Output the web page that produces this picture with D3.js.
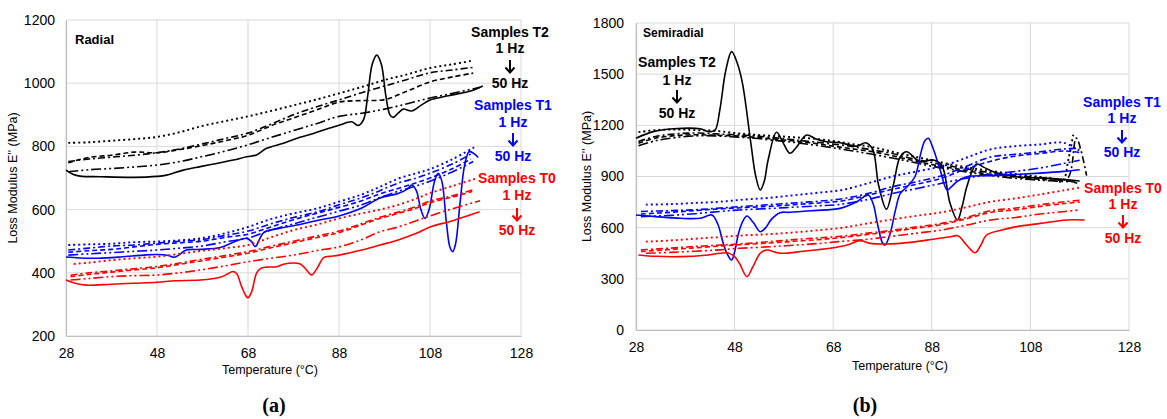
<!DOCTYPE html>
<html>
<head>
<meta charset="utf-8">
<script src="https://cdn.jsdelivr.net/npm/d3@7"></script>
<style>
  html, body { margin: 0; padding: 0; background: #ffffff; }
  svg { display: block; }
  text { font-family: "Liberation Sans", Arial, sans-serif; }
</style>
</head>
<body>
<svg id="chart" width="1167" height="419"></svg>
<script>
// Loss modulus E'' vs temperature, five frequencies per sample group (1 Hz ... 50 Hz).
// Each series: [temperature °C, E'' MPa]

const tempTicks = [28, 48, 68, 88, 108, 128];
const radialTicks = [200, 400, 600, 800, 1000, 1200];
const semiTicks = [0, 300, 600, 900, 1200, 1500, 1800];

// ---------- Radial, samples T2 ----------
const radT2_f1 = [[28.5,811],[33,813],[38,818],[43,823],[48,830],[53,845],[58,865],[63,880],[68,895],[73,912],[78,930],[83,948],[88,968],[93,988],[98,1010],[103,1028],[108,1048],[113,1060],[117.5,1072]];
const radT2_f2 = [[28.5,752],[33,760],[38,766],[43,772],[48,780],[53,792],[58,808],[63,825],[68,842],[73,870],[78,900],[83,925],[88,947],[93,970],[98,991],[103,1012],[108,1033],[113,1042],[117.5,1050]];
const radT2_f3 = [[28.5,748],[33,765],[38,772],[43,782],[48,780],[53,790],[58,803],[63,818],[68,835],[73,865],[78,890],[83,915],[88,940],[93,945],[98,948],[103,975],[108,1004],[113,1020],[117.5,1032]];
const radT2_f4 = [[28.5,720],[33,726],[38,730],[43,735],[48,741],[53,752],[58,768],[63,785],[68,805],[73,828],[78,850],[83,872],[88,895],[93,905],[98,918],[103,935],[108,953],[113,968],[119,987]];
const radT2_f5 = [[28,725],[29.5,712],[31.1,706],[35.5,704],[42.8,702],[48,705],[50.1,709],[53.8,725],[57.5,736],[61.1,746],[64.8,757],[67.7,767],[69.9,773],[72.1,794],[75.8,810],[79.4,829],[82.4,841],[86,858],[88.2,868],[90.8,878],[92.2,866],[93.4,885],[94.3,960],[95.3,1060],[96.3,1089],[97.3,1060],[98.3,960],[99.2,900],[99.9,892],[101,905],[102.1,918],[104,912],[106,930],[108,947],[112,960],[117.5,978],[119.6,991]];

// ---------- Radial, samples T1 ----------
const radT1_f1 = [[28.5,488],[33,490],[38,492],[43,497],[48,499],[53,503],[58,510],[63,525],[68,545],[73,570],[78,588],[83,603],[88,625],[93,648],[97,672],[101,698],[105,715],[108,728],[113,760],[117.7,797]];
const radT1_f2 = [[28.5,472],[33,478],[38,485],[43,488],[48,494],[53,500],[58,505],[63,518],[68,532],[73,555],[78,575],[83,592],[88,615],[93,638],[97,660],[101,684],[105,700],[108,715],[113,745],[117.5,780]];
const radT1_f3 = [[28.5,465],[33,470],[38,474],[43,482],[48,490],[53,495],[58,500],[63,512],[68,522],[73,545],[78,568],[83,588],[88,607],[93,628],[97,650],[101,667],[105,685],[108,700],[113,730],[117,760]];
const radT1_f4 = [[28.5,456],[33,460],[38,464],[43,468],[48,472],[53,478],[58,485],[63,498],[68,510],[73,535],[78,555],[83,575],[88,595],[93,615],[97,638],[101,658],[105,675],[108,690],[113,720],[117.5,752]];
const radT1_f5 = [[28,450],[31,447],[35,446],[40,450],[45,456],[48,458],[50.5,455],[51.8,449],[53,458],[54.4,472],[57.5,474],[61.9,480],[65,498],[67.7,509],[68.7,500],[69.6,483],[70.5,505],[71.5,528],[75,541],[78.7,551],[83,565],[88,580],[93,605],[97,637],[101,651],[103,665],[104,678],[105,660],[106,600],[106.9,572],[107.8,600],[109,690],[109.8,715],[110.6,690],[111.6,560],[112.4,480],[113,467],[113.6,490],[114.6,620],[115.6,740],[116.6,783],[117.6,778],[118.6,765]];

// ---------- Radial, samples T0 ----------
const radT0_f1 = [[29.7,428],[33,432],[38,440],[43,446],[48,451],[53,460],[58,470],[63,478],[68,488],[73,512],[78,535],[83,552],[88,572],[93,588],[97,600],[101,615],[105,635],[108,652],[113,675],[117.9,697]];
const radT0_f2 = [[29,392],[33,400],[38,406],[43,413],[48,420],[53,431],[58,443],[63,455],[68,467],[73,484],[78,500],[83,516],[88,532],[93,556],[97,576],[101,592],[105,610],[108,627],[113,644],[117.3,662]];
const radT0_f3 = [[29,388],[33,395],[38,402],[43,409],[48,416],[53,427],[58,438],[63,450],[68,462],[73,479],[78,495],[83,511],[88,527],[93,552],[97,572],[101,588],[105,605],[108,622],[113,640],[117.3,657]];
const radT0_f4 = [[29,377],[33,382],[38,388],[43,391],[48,393],[53,400],[58,410],[63,422],[68,435],[73,446],[78,456],[83,470],[88,482],[93,505],[97,530],[101,545],[105,565],[108,580],[113,603],[119,628]];
const radT0_f5 = [[28,377],[30,367],[32.5,361],[38,364],[43,367],[48,370],[52,375],[57.5,377],[61.9,386],[63.5,396],[64.6,404],[65.5,398],[66.5,360],[67.5,328],[68,321],[68.8,340],[69.9,400],[70.8,414],[72,418],[74.3,419],[76,428],[78,431],[79.5,428],[80.5,415],[81.5,398],[82,393],[83,410],[84.7,449],[86,452],[88,456],[93,472],[97,488],[101,504],[105,525],[108,545],[113,565],[118.9,593]];

// ---------- Semiradial, samples T2 ----------
const semT2_f1 = [[28.5,1160],[32,1172],[36,1176],[40,1172],[44,1168],[48,1155],[52,1145],[56,1138],[60,1130],[64,1122],[68,1108],[72,1090],[76,1072],[80,1045],[84,1020],[88,995],[92,970],[96,950],[100,932],[104,918],[108,905],[112,888],[114.5,872],[115.7,1000],[116.7,1145]];
const semT2_f2 = [[28.5,1105],[32,1135],[36,1150],[40,1155],[44,1150],[48,1145],[52,1138],[56,1128],[60,1115],[64,1103],[68,1090],[72,1075],[76,1055],[80,1035],[84,1005],[88,982],[92,960],[96,940],[100,922],[104,908],[108,898],[112,890],[115.5,888],[117.3,1125],[119.4,905]];
const semT2_f3 = [[28.5,1095],[32,1125],[36,1140],[40,1145],[44,1142],[48,1138],[52,1130],[56,1120],[60,1108],[64,1095],[68,1078],[72,1062],[76,1045],[80,1022],[84,995],[88,970],[92,950],[96,930],[100,912],[104,900],[108,888],[112,880],[116,872],[117.5,860]];
const semT2_f4 = [[28.5,1080],[32,1110],[36,1128],[40,1138],[44,1138],[48,1132],[52,1124],[56,1112],[60,1100],[64,1085],[68,1068],[72,1050],[76,1030],[80,1008],[84,985],[88,960],[92,942],[96,922],[100,905],[104,892],[108,882],[112,875],[117,868]];
const semT2_f5 = [[28,1124],[31.5,1163],[35.6,1180],[41,1180],[42.7,1163],[44,1170],[45,1290],[46.2,1520],[47.4,1632],[48.6,1560],[49.6,1446],[51.3,1095],[52.3,900],[53.2,821],[54,870],[54.8,997],[56.5,1159],[57.8,1100],[59.2,1036],[60.5,1070],[62.6,1143],[64.5,1120],[66.7,1104],[69.4,1098],[72.8,1078],[74.6,1098],[76,1060],[77.2,850],[78.8,708],[80.2,850],[81.6,1016],[82.9,1045],[85.6,987],[88.3,997],[90,967],[91.7,743],[93.2,645],[94.2,730],[95.1,840],[97.1,973],[98.5,955],[100.5,928],[105.2,899],[112,889],[118,874]];

// ---------- Semiradial, samples T1 ----------
const semT1_f1 = [[30,735],[35,738],[40,745],[45,752],[50,765],[55,775],[60,790],[65,805],[70,822],[75,860],[80,900],[85,930],[90,960],[95,1010],[100,1060],[105,1078],[110,1088],[114.7,1098],[118,1050]];
const semT1_f2 = [[29,695],[35,700],[40,705],[45,715],[50,725],[55,735],[60,745],[65,755],[70,770],[75,800],[80,840],[85,870],[90,905],[95,960],[100,1015],[105,1030],[110,1045],[115,1062],[118,1065]];
const semT1_f3 = [[29,680],[35,690],[40,700],[45,710],[50,718],[55,725],[60,735],[65,745],[70,758],[75,790],[80,825],[85,855],[90,890],[95,945],[100,990],[105,1020],[110,1035],[115,1050],[118,1040]];
const semT1_f4 = [[29,665],[35,672],[40,682],[45,695],[49,704],[55,712],[60,720],[65,728],[69,735],[75,765],[80,800],[85,830],[90,860],[95,890],[100,912],[105,930],[110,950],[115,978],[118,995]];
const semT1_f5 = [[28,674],[32,665],[37,655],[41,655],[43.4,674],[44.6,620],[45.7,508],[46.6,440],[47.4,410],[48.1,470],[48.8,567],[49.7,640],[50.5,668],[51.8,630],[53.2,576],[54.3,600],[55.5,650],[57.2,688],[59.2,690],[64,700],[69.4,713],[72.8,752],[75.1,792],[76.1,740],[77,620],[78,510],[78.5,498],[79.5,560],[80.6,700],[81.6,800],[83,840],[84.6,900],[85.8,1040],[86.6,1110],[87.3,1124],[88.2,1070],[89.7,938],[91.1,821],[92,840],[93.1,870],[95.1,899],[100,905],[105,912],[110,920],[114.7,930],[118,940]];

// ---------- Semiradial, samples T0 ----------
const semT0_f1 = [[30,518],[35,525],[40,535],[45,545],[50,555],[55,562],[60,572],[65,585],[70,600],[75,625],[80,648],[85,670],[90,690],[95,720],[100,752],[105,772],[110,795],[115,820],[118,835]];
const semT0_f2 = [[29,470],[35,480],[40,490],[45,498],[49,505],[55,518],[60,530],[65,540],[69,548],[75,568],[80,585],[85,605],[90,625],[95,660],[100,700],[105,715],[110,735],[115,752],[118,760]];
const semT0_f3 = [[29,460],[35,472],[40,482],[45,492],[49,500],[55,510],[60,520],[65,530],[69,540],[75,560],[80,578],[85,598],[90,618],[95,652],[100,690],[105,705],[110,725],[115,742],[118,750]];
const semT0_f4 = [[30,450],[35,455],[40,462],[45,470],[49,479],[55,488],[60,497],[65,507],[69,518],[75,532],[80,550],[85,568],[90,586],[95,615],[100,645],[105,660],[110,680],[115,695],[118,704]];
const semT0_f5 = [[28.5,440],[32,432],[37,430],[42,438],[45,450],[46.7,452],[48,430],[49,390],[50.5,313],[51.7,370],[53.2,450],[54.5,469],[57.2,450],[62,462],[67.3,479],[71,500],[73.4,524],[75.5,508],[78.1,504],[81.6,508],[88.3,532],[91.5,545],[93.3,552],[95,500],[96.8,453],[98,500],[99.1,557],[102,585],[105.2,606],[110,625],[115.3,645],[119,645]];

// Line styles, 1 Hz -> 50 Hz
const freqDash = ["2,3", "7,3,2,3", "5,3", "10,3,2,3,2,3", null];

const svg = d3.select("#chart");

function drawPanel(p) {
  const x = d3.scaleLinear().domain([28, 128]).range([p.left, p.right]);
  const y = d3.scaleLinear().domain([p.yTicks[0], p.yTicks[p.yTicks.length - 1]]).range([p.bottom, p.top]);
  const g = svg.append("g");

  // grid
  g.append("g").selectAll("line").data(p.yTicks).join("line")
    .attr("x1", p.left).attr("x2", p.right)
    .attr("y1", d => y(d)).attr("y2", d => y(d))
    .attr("stroke", "#d9d9d9").attr("stroke-width", 1);
  g.append("g").selectAll("line").data(tempTicks).join("line")
    .attr("x1", d => x(d)).attr("x2", d => x(d))
    .attr("y1", p.top).attr("y2", p.bottom)
    .attr("stroke", "#d9d9d9").attr("stroke-width", 1);

  // axes
  const fmt = d3.format("d");
  const xAxis = d3.axisBottom(x).tickValues(tempTicks).tickFormat(fmt).tickSize(0).tickPadding(p.xPad);
  const yAxis = d3.axisLeft(y).tickValues(p.yTicks).tickFormat(fmt).tickSize(0).tickPadding(p.yPad);
  const gx = g.append("g").attr("transform", `translate(0,${p.bottom})`).call(xAxis);
  const gy = g.append("g").attr("transform", `translate(${p.left},0)`).call(yAxis);
  [gx, gy].forEach(a => {
    a.select(".domain").attr("stroke", "#bfbfbf").attr("stroke-width", 1.2);
    a.selectAll("text").attr("font-size", 14).attr("fill", "#000")
      .style("font-family", '"Liberation Sans", Arial, sans-serif');
  });

  // series
  const line = d3.line().x(d => x(d[0])).y(d => y(d[1])).curve(d3.curveCatmullRom.alpha(0.5));
  p.groups.forEach(grp => {
    grp.series.forEach((s, i) => {
      g.append("path").datum(s)
        .attr("d", line)
        .attr("fill", "none")
        .attr("stroke", grp.color)
        .attr("stroke-width", i === 0 ? 1.9 : 1.6)
        .attr("stroke-dasharray", freqDash[i]);
    });
  });

  // panel title
  g.append("text").attr("x", p.titleX).attr("y", p.titleY)
    .attr("font-size", p.titleSize).attr("font-weight", "bold").text(p.title);

  // axis titles
  g.append("text").attr("x", p.xTitleX).attr("y", p.xTitleY)
    .attr("text-anchor", "middle").attr("font-size", 12.5).text("Temperature (°C)");
  g.append("text")
    .attr("transform", `translate(${p.yTitleX},${(p.top + p.bottom) / 2}) rotate(-90)`)
    .attr("text-anchor", "middle").attr("font-size", 12.5).text("Loss Modulus E'' (MPa)");

  // group annotations: label, 1 Hz, arrow, 50 Hz
  p.notes.forEach(n => {
    const t = g.append("g").attr("fill", n.color).attr("font-weight", "bold")
      .attr("text-anchor", "middle").attr("font-size", 14);
    t.append("text").attr("x", n.x).attr("y", n.ys[0]).text(n.label);
    t.append("text").attr("x", n.x).attr("y", n.ys[1]).text("1 Hz");
    t.append("text").attr("x", n.x).attr("y", n.ys[3]).text("50 Hz");
    const ay = n.ys[2];
    t.append("path")
      .attr("d", `M${n.x},${ay - 13} L${n.x},${ay - 1} M${n.x - 4.5},${ay - 5.5} L${n.x},${ay - 0.5} L${n.x + 4.5},${ay - 5.5}`)
      .attr("fill", "none").attr("stroke", n.color).attr("stroke-width", 2);
  });

  // panel letter
  svg.append("text").attr("x", p.letterX).attr("y", 412)
    .attr("text-anchor", "middle").attr("font-size", 20).attr("font-weight", "bold")
    .style("font-family", '"Liberation Serif", "DejaVu Serif", serif')
    .text(p.letter);
}

drawPanel({
  left: 66, right: 521, top: 20, bottom: 336,
  yTicks: radialTicks, xPad: 12, yPad: 11,
  title: "Radial", titleX: 75, titleY: 44, titleSize: 13,
  xTitleX: 270, xTitleY: 374, yTitleX: 17,
  letter: "(a)", letterX: 274,
  groups: [
    { color: "#000000", series: [radT2_f1, radT2_f2, radT2_f3, radT2_f4, radT2_f5] },
    { color: "#0000ff", series: [radT1_f1, radT1_f2, radT1_f3, radT1_f4, radT1_f5] },
    { color: "#ff0000", series: [radT0_f1, radT0_f2, radT0_f3, radT0_f4, radT0_f5] }
  ],
  notes: [
    { label: "Samples T2", color: "#000000", x: 510, ys: [37, 53, 73, 88] },
    { label: "Samples T1", color: "#0000ff", x: 513, ys: [110, 127, 146, 161] },
    { label: "Samples T0", color: "#ff0000", x: 517, ys: [183, 200, 221, 235] }
  ]
});

drawPanel({
  left: 636, right: 1129, top: 23, bottom: 330,
  yTicks: semiTicks, xPad: 12, yPad: 12,
  title: "Semiradial", titleX: 643, titleY: 37, titleSize: 12,
  xTitleX: 900, xTitleY: 370, yTitleX: 591,
  letter: "(b)", letterX: 865,
  groups: [
    { color: "#000000", series: [semT2_f1, semT2_f2, semT2_f3, semT2_f4, semT2_f5] },
    { color: "#0000ff", series: [semT1_f1, semT1_f2, semT1_f3, semT1_f4, semT1_f5] },
    { color: "#ff0000", series: [semT0_f1, semT0_f2, semT0_f3, semT0_f4, semT0_f5] }
  ],
  notes: [
    { label: "Samples T2", color: "#000000", x: 677, ys: [67, 85, 103, 118] },
    { label: "Samples T1", color: "#0000ff", x: 1122, ys: [107, 123, 143, 157] },
    { label: "Samples T0", color: "#ff0000", x: 1123, ys: [193, 209, 228, 243] }
  ]
});
</script>
</body>
</html>
